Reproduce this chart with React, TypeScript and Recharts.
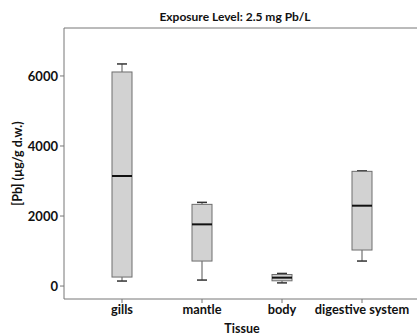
import { ComposedChart, Bar, XAxis, YAxis, ReferenceLine } from "recharts";

const tissues = ["gills", "mantle", "body", "digestive system"];
const whiskerLow = [143, 171, 90, 714];
const q1 = [257, 714, 150, 1029];
const median = [3143, 1762, 240, 2295];
const q3 = [6114, 2333, 330, 3276];
const whiskerHigh = [6343, 2390, 360, 3290];
const yTicks = [0, 2000, 4000, 6000];
const yDomain = [-370, 7370];

const data = tissues.map((t, i) => ({
  tissue: t,
  min: whiskerLow[i],
  q1: q1[i],
  median: median[i],
  q3: q3[i],
  max: whiskerHigh[i],
}));

const font = "Lato, 'Open Sans', sans-serif";

// box drawn from the q1..q3 range bar; whiskers/median scaled off the same geometry
const BoxShape = (props: any) => {
  const { x, y, width, height, payload } = props;
  const top = Math.min(y, y + height);
  const h = Math.abs(height);
  const ppu = h / (payload.q3 - payload.q1);
  const toY = (v: number) => top + (payload.q3 - v) * ppu;
  const cx = x + width / 2;
  return (
    <g>
      <line x1={cx} x2={cx} y1={toY(payload.max)} y2={top} stroke="#555" strokeWidth={1} />
      <line x1={cx} x2={cx} y1={top + h} y2={toY(payload.min)} stroke="#555" strokeWidth={1} />
      <line x1={cx - 5} x2={cx + 5} y1={toY(payload.max)} y2={toY(payload.max)} stroke="#333" strokeWidth={1.5} />
      <line x1={cx - 5} x2={cx + 5} y1={toY(payload.min)} y2={toY(payload.min)} stroke="#333" strokeWidth={1.5} />
      <rect x={x} y={top} width={width} height={h} fill="#d2d2d2" stroke="#6e6e6e" strokeWidth={1} />
      <line x1={x} x2={x + width} y1={toY(payload.median)} y2={toY(payload.median)} stroke="#111" strokeWidth={2} />
    </g>
  );
};

const App = () => (
  <div style={{ position: "absolute", left: 0, top: 0, width: 417, height: 336, overflow: "hidden", background: "#fff", fontFamily: font }}>
    <div
      style={{
        position: "absolute",
        left: 135,
        width: 200,
        top: 9,
        textAlign: "center",
        fontSize: 12,
        fontWeight: 700,
        color: "#111",
        whiteSpace: "nowrap",
      }}
    >
      Exposure Level: 2.5 mg Pb/L
    </div>
    <ComposedChart width={420} height={336} data={data} margin={{ top: 28, right: 0, left: 0, bottom: 0 }}>
      <XAxis
        dataKey="tissue"
        height={37}
        padding={{ left: 18, right: 18 }}
        stroke="#777"
        tickSize={4}
        tick={{ fill: "#111", fontSize: 12.8, fontWeight: 700, fontFamily: font }}
        label={{ value: "Tissue", position: "insideBottom", offset: 3, fill: "#111", fontSize: 12.5, fontWeight: 700, fontFamily: font }}
      />
      <YAxis
        width={64}
        domain={yDomain}
        ticks={yTicks}
        allowDataOverflow
        stroke="#777"
        tickSize={4}
        tick={{ fill: "#111", fontSize: 13, fontWeight: 700, fontFamily: font }}
        label={{ value: "[Pb] (µg/g d.w.)", angle: -90, position: "center", dx: -14, fill: "#111", fontSize: 12.5, fontWeight: 700, fontFamily: font }}
      />
      <ReferenceLine y={yDomain[1]} stroke="#777" />
      <Bar dataKey={(d: any) => [d.q1, d.q3]} barSize={20} shape={BoxShape} isAnimationActive={false} />
    </ComposedChart>
  </div>
);

export default App;
